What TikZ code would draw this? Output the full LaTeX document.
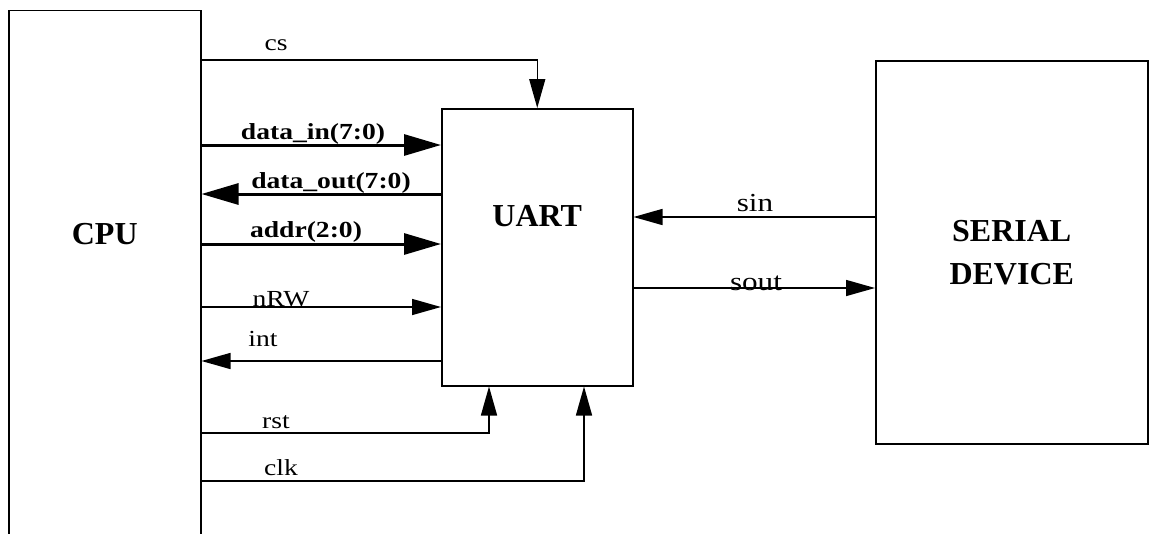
\documentclass[tikz,border=0pt]{standalone}
\usepackage{fontspec}
\setmainfont{Liberation Serif}
\newfontfamily\lblfont{Liberation Serif}[FakeStretch=1.2]
\usetikzlibrary{arrows.meta}

\begin{document}
\begin{tikzpicture}[x=1pt,y=-1pt, every node/.style={font=\fontsize{23}{26}\selectfont},
  box/.style={draw,line width=1.5pt,inner sep=0pt},
  title/.style={font=\fontsize{32}{43}\selectfont\bfseries,align=center},
  sig/.style={line width=1.5pt,-{Triangle[length=29pt,width=16pt]}},
  bus/.style={line width=3pt,-{Triangle[length=37pt,width=21pt]}},
  lbl/.style={anchor=base,inner sep=0pt,font=\lblfont\fontsize{23}{26}\selectfont},
  buslbl/.style={lbl,font=\lblfont\fontsize{23}{26}\selectfont\bfseries},
  serlbl/.style={lbl,font=\lblfont\fontsize{26}{30}\selectfont}]
  \useasboundingbox (0,0) rectangle (1155,533);

  \node[box,anchor=north west,minimum width=192pt,minimum height=560pt] (cpu) at (8,9.5) {};
  \node[box,anchor=north west,minimum width=191pt,minimum height=277pt] (uart) at (441,108) {};
  \node[box,title,anchor=north west,minimum width=272pt,minimum height=383pt] (serial) at (875,60) {SERIAL\\DEVICE};

  \node[title] (cputxt) at (cpu.north |- 0,234) {CPU};
  \node[title] (uarttxt) at (uart.north |- 0,216) {UART};

  \draw[sig] (cpu.east |- 0,60) -| (uart.north);
  \draw[bus] (cpu.east |- 0,145) -- (uart.west |- 0,145);
  \draw[bus] (uart.west |- 0,194) -- (cpu.east |- 0,194);
  \draw[bus] (cpu.east |- 0,244) -- (uart.west |- 0,244);
  \draw[sig] (cpu.east |- 0,307) -- (uart.west |- 0,307);
  \draw[sig] (uart.west |- 0,361) -- (cpu.east |- 0,361);
  \draw[sig] (cpu.east |- 0,433) -| (489,0 |- uart.south);
  \draw[sig] (cpu.east |- 0,481) -| (584,0 |- uart.south);

  \draw[sig] (serial.west |- 0,217) -- (uart.east |- 0,217);
  \draw[sig] (uart.east |- 0,288) -- (serial.west |- 0,288);

  \node[lbl] (cslbl) at (276,50) {cs};
  \node[buslbl] (dinlbl) at (313,139) {data\_in(7:0)};
  \node[buslbl] (doutlbl) at (331,188) {data\_out(7:0)};
  \node[buslbl] (addrlbl) at (306,237) {addr(2:0)};
  \node[lbl] (nrwlbl) at (281,306) {nRW};
  \node[lbl] (intlbl) at (263,346) {int};
  \node[lbl] (rstlbl) at (276,428) {rst};
  \node[lbl] (clklbl) at (281,475) {clk};
  \node[serlbl] (sinlbl) at (755,211) {sin};
  \node[serlbl] (soutlbl) at (756,290) {sout};
\end{tikzpicture}
\end{document}
